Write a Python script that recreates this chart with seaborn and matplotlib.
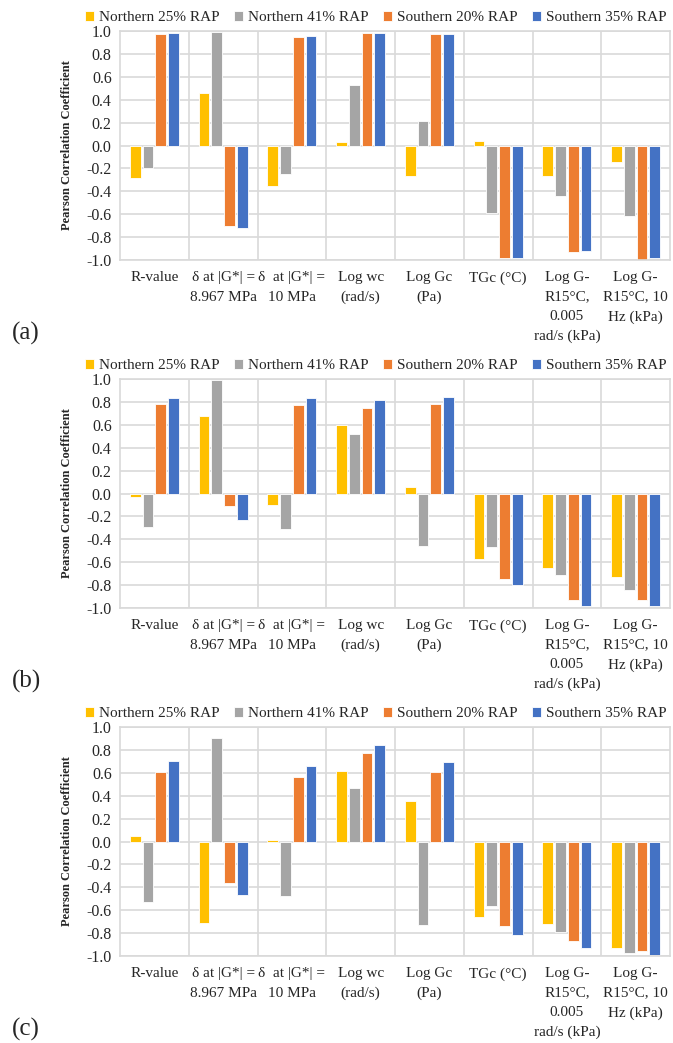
import numpy as np
import pandas as pd
import seaborn as sns
import matplotlib.pyplot as plt

categories = ["R-value", "δ at |G*| =\n8.967 MPa", "δ  at |G*| =\n10 MPa",
              "Log wc\n(rad/s)", "Log Gc\n(Pa)", "TGc (°C)",
              "Log G-\nR15°C,\n0.005\nrad/s (kPa)", "Log G-\nR15°C, 10\nHz (kPa)"]
series = ["Northern 25% RAP", "Northern 41% RAP", "Southern 20% RAP", "Southern 35% RAP"]
colors = ["#FFC000", "#A5A5A5", "#ED7D31", "#4472C4"]

# panel (a)
a_n25 = [-0.28, 0.46, -0.35, 0.03, -0.27, 0.04, -0.27, -0.14]
a_n41 = [-0.20, 0.99, -0.25, 0.53, 0.21, -0.59, -0.44, -0.62]
a_s20 = [0.97, -0.70, 0.95, 0.98, 0.97, -0.98, -0.93, -1.00]
a_s35 = [0.98, -0.72, 0.96, 0.98, 0.97, -0.98, -0.92, -0.98]
# panel (b)
b_n25 = [-0.03, 0.68, -0.10, 0.60, 0.06, -0.57, -0.65, -0.73]
b_n41 = [-0.29, 0.99, -0.31, 0.52, -0.46, -0.47, -0.71, -0.84]
b_s20 = [0.78, -0.11, 0.77, 0.75, 0.78, -0.75, -0.93, -0.93]
b_s35 = [0.83, -0.23, 0.83, 0.82, 0.84, -0.80, -0.98, -0.98]
# panel (c)
c_n25 = [0.05, -0.71, 0.01, 0.62, 0.35, -0.66, -0.72, -0.93]
c_n41 = [-0.53, 0.90, -0.48, 0.47, -0.73, -0.56, -0.79, -0.97]
c_s20 = [0.61, -0.36, 0.56, 0.77, 0.61, -0.74, -0.87, -0.96]
c_s35 = [0.70, -0.47, 0.66, 0.84, 0.69, -0.82, -0.93, -0.99]

panels = [("(a)", [a_n25, a_n41, a_s20, a_s35]),
          ("(b)", [b_n25, b_n41, b_s20, b_s35]),
          ("(c)", [c_n25, c_n41, c_s20, c_s35])]

sns.set_style("white")
plt.rcParams['font.family'] = ['Liberation Serif', 'DejaVu Serif']

W, H = 673, 1043
fig = plt.figure(figsize=(W / 100, H / 100), dpi=100)

tops = [31, 379, 727]
height = 229
left, right = 120, 670
gridc = "#D9D9D9"

for (label, vals), top in zip(panels, tops):
    ax = fig.add_axes([left / W, 1 - (top + height) / H, (right - left) / W, height / H])
    rows = []
    for s, v in zip(series, vals):
        for c, y in zip(categories, v):
            rows.append({"cat": c, "series": s, "value": y})
    df = pd.DataFrame(rows)
    sns.barplot(data=df, x="cat", y="value", hue="series", order=categories,
                hue_order=series, palette=colors, saturation=1, width=0.74, gap=0.16,
                edgecolor="white", linewidth=0.6, ax=ax, legend=True)
    ax.set_ylim(-1.0, 1.0)
    ax.set_xlim(-0.5, 7.5)
    yt = np.round(np.arange(-1.0, 1.01, 0.2), 1)
    ax.set_yticks(yt)
    ax.set_yticklabels([f"{abs(t):.1f}" if abs(t) < 1e-9 else f"{t:.1f}" for t in yt], fontsize=11.5)
    ax.set_xticks(range(len(categories)))
    ax.set_xticklabels(categories, fontsize=11, linespacing=1.65, va="top")
    ax.set_xticks(np.arange(0.5, 7.5, 1.0), minor=True)
    ax.tick_params(axis="both", which="both", length=0)
    ax.tick_params(axis="x", pad=8)
    ax.tick_params(axis="y", pad=6)
    ax.yaxis.grid(True, color=gridc, linewidth=1.2)
    ax.xaxis.grid(True, which="minor", color=gridc, linewidth=1.2)
    ax.xaxis.grid(False, which="major")
    ax.set_axisbelow(True)
    for sp in ax.spines.values():
        sp.set_color(gridc)
        sp.set_linewidth(1.2)
    ax.set_xlabel("")
    ax.set_ylabel("Pearson Correlation Coefficient", fontsize=9, fontweight="bold", labelpad=10)
    ax.legend(loc="lower center", bbox_to_anchor=(0.465, 1.0), ncol=4, frameon=False,
              fontsize=11, handlelength=0.6, handleheight=0.6, handletextpad=0.3,
              columnspacing=0.95, borderaxespad=0.05)
    fig.text(12 / W, 1 - (top + 302) / H, label, fontsize=18, ha="left", va="center")

fig.savefig("out.png", dpi=100)
